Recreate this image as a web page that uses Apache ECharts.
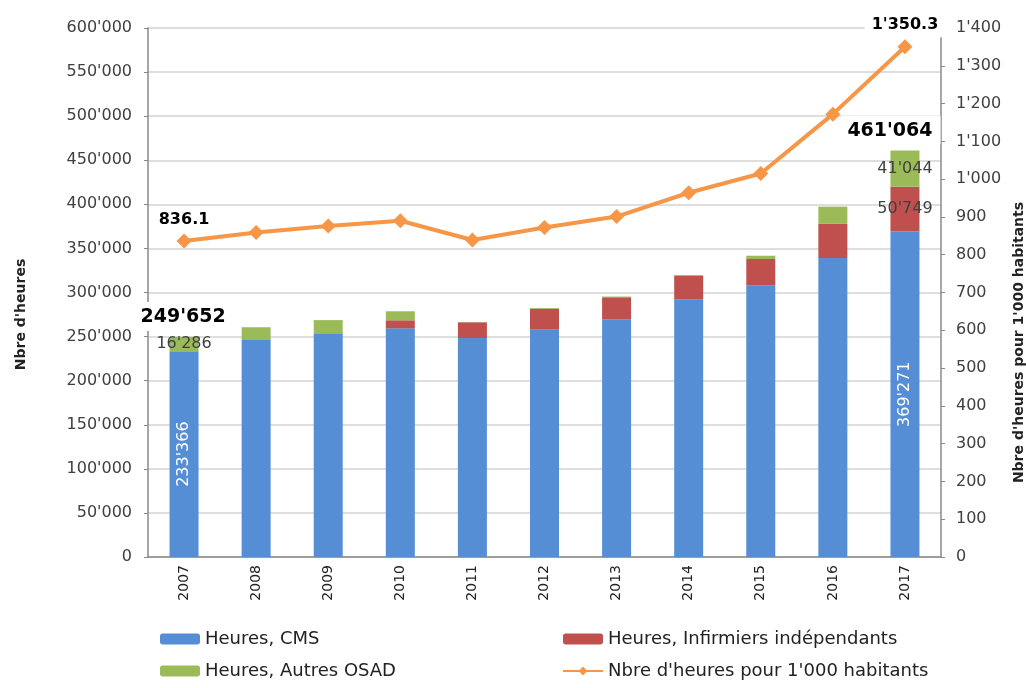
<!DOCTYPE html>
<html>
<head>
<meta charset="utf-8">
<script src="https://cdn.jsdelivr.net/npm/echarts@6/dist/echarts.min.js"></script>
<style>
  html, body { margin: 0; padding: 0; background: #fff; }
  #chart { width: 1026px; height: 688px; }
</style>
</head>
<body>
<div id="chart"></div>
<script>
// values
const years = ['2007', '2008', '2009', '2010', '2011', '2012', '2013', '2014', '2015', '2016', '2017'];
const heuresCMS = [233366, 246100, 253700, 259400, 248400, 258200, 269600, 292300, 308200, 339000, 369271];
const heuresInfirmiers = [0, 0, 0, 9100, 17800, 23100, 25000, 26500, 29800, 38800, 50749];
const heuresAutres = [16286, 14500, 15000, 10200, 400, 1000, 800, 1000, 3700, 19600, 41044];
const heuresPour1000 = [836.1, 859, 876, 890, 839, 872, 901, 964, 1015, 1172, 1350.3];
const leftTicks = { min: 0, max: 600000, step: 50000 };
const rightTicks = { min: 0, max: 1400, step: 100 };

const FONT = 'DejaVu Sans';
const last = years.length - 1;

function fmt(v) {
  return Math.round(v).toString().replace(/\B(?=(\d{3})+(?!\d))/g, "'");
}
function fmt1(v) {
  const parts = v.toFixed(1).split('.');
  return parts[0].replace(/\B(?=(\d{3})+(?!\d))/g, "'") + '.' + parts[1];
}

const totals = years.map((y, i) => heuresCMS[i] + heuresInfirmiers[i] + heuresAutres[i]);

// only first and last year get labels
function withLabels(arr, label) {
  return arr.map((v, i) => (i === 0 || i === last) ? { value: v, label: label(i) } : v);
}

const cmsData = withLabels(heuresCMS, () => ({
  show: true, position: 'inside', rotate: 90, color: '#fff',
  fontSize: 16, fontFamily: FONT, formatter: p => fmt(p.value)
}));
const infData = withLabels(heuresInfirmiers, i => ({
  show: i === last, position: 'inside', color: '#404040',
  fontSize: 16, fontFamily: FONT, formatter: p => fmt(p.value)
}));
const autresData = withLabels(heuresAutres, () => ({
  show: true, position: 'inside', color: '#404040',
  fontSize: 16, fontFamily: FONT, formatter: p => fmt(p.value)
}));
const totalData = withLabels(totals, i => ({
  show: true, position: 'top', distance: 6, offset: i === last ? [-14, 0] : [0, 0],
  color: '#000', fontSize: 19, fontWeight: 'bold', fontFamily: FONT,
  backgroundColor: '#fff', padding: [6, 8, 4, 6],
  formatter: p => fmt(p.value)
}));
const lineData = withLabels(heuresPour1000, () => ({
  show: true, position: 'top', distance: 2,
  color: '#000', fontSize: 16, fontWeight: 'bold', fontFamily: FONT,
  backgroundColor: '#fff', padding: [4, 7, 4, 7],
  formatter: p => fmt1(p.value)
}));

const legendBase = {
  top: 630, height: 70, padding: 0, orient: 'vertical', itemGap: 14,
  itemWidth: 40, itemHeight: 11,
  textStyle: { fontSize: 18, color: '#222', fontFamily: FONT }
};

const chart = echarts.init(document.getElementById('chart'));
chart.setOption({
  animation: false,
  textStyle: { fontFamily: FONT },
  grid: { left: 148, right: 85, top: 28, bottom: 131, outerBoundsMode: 'none' },
  legend: [
    Object.assign({ left: 160, data: ['Heures, CMS', 'Heures, Autres OSAD'] }, legendBase),
    Object.assign({ left: 562, data: ['Heures, Infirmiers indépendants', "Nbre d'heures pour 1'000 habitants"] }, legendBase)
  ],
  xAxis: {
    type: 'category',
    data: years,
    axisLine: { lineStyle: { color: '#888', width: 1.5 } },
    axisTick: { show: false },
    axisLabel: { rotate: 90, fontSize: 14, color: '#222', margin: 8 }
  },
  yAxis: [
    {
      type: 'value',
      min: leftTicks.min, max: leftTicks.max, interval: leftTicks.step,
      name: "Nbre d'heures", nameLocation: 'middle', nameRotate: 90, nameGap: 120,
      nameTextStyle: { fontSize: 14, fontWeight: 'bold', color: '#222', padding: [0, 44, 0, 0] },
      axisLine: { show: true, lineStyle: { color: '#888', width: 1.5 } },
      axisTick: { show: true, length: 4, lineStyle: { color: '#888' } },
      splitLine: { lineStyle: { color: '#dedede', width: 2 } },
      axisLabel: { fontSize: 16, color: '#404040', margin: 16, formatter: v => fmt(v) }
    },
    {
      type: 'value', position: 'right',
      min: rightTicks.min, max: rightTicks.max, interval: rightTicks.step,
      name: "Nbre d'heures pour 1'000 habitants", nameLocation: 'middle', nameRotate: 90, nameGap: 63,
      nameTextStyle: { fontSize: 14, fontWeight: 'bold', color: '#222', padding: [0, 100, 0, 0] },
      axisLine: { show: true, lineStyle: { color: '#888', width: 1.5 } },
      axisTick: { show: true, length: 4, lineStyle: { color: '#888' } },
      splitLine: { show: false },
      axisLabel: { fontSize: 16, color: '#404040', margin: 15, formatter: v => fmt(v) }
    }
  ],
  series: [
    {
      name: 'Heures, CMS', type: 'bar', stack: 'h', barWidth: 29,
      itemStyle: { color: '#558ED5' }, data: cmsData
    },
    {
      name: 'Heures, Infirmiers indépendants', type: 'bar', stack: 'h', barWidth: 29,
      itemStyle: { color: '#C0504D' }, data: infData
    },
    {
      name: 'Heures, Autres OSAD', type: 'bar', stack: 'h', barWidth: 29,
      itemStyle: { color: '#9BBB59' }, data: autresData
    },
    {
      name: 'Total', type: 'scatter', symbolSize: 0, silent: true, z: 5,
      itemStyle: { opacity: 1 },
      data: totalData
    },
    {
      name: "Nbre d'heures pour 1'000 habitants", type: 'line', yAxisIndex: 1, z: 6,
      symbol: 'diamond', symbolSize: 15,
      lineStyle: { color: '#F79646', width: 4 },
      itemStyle: { color: '#F79646' },
      data: lineData
    }
  ]
});
</script>
</body>
</html>
